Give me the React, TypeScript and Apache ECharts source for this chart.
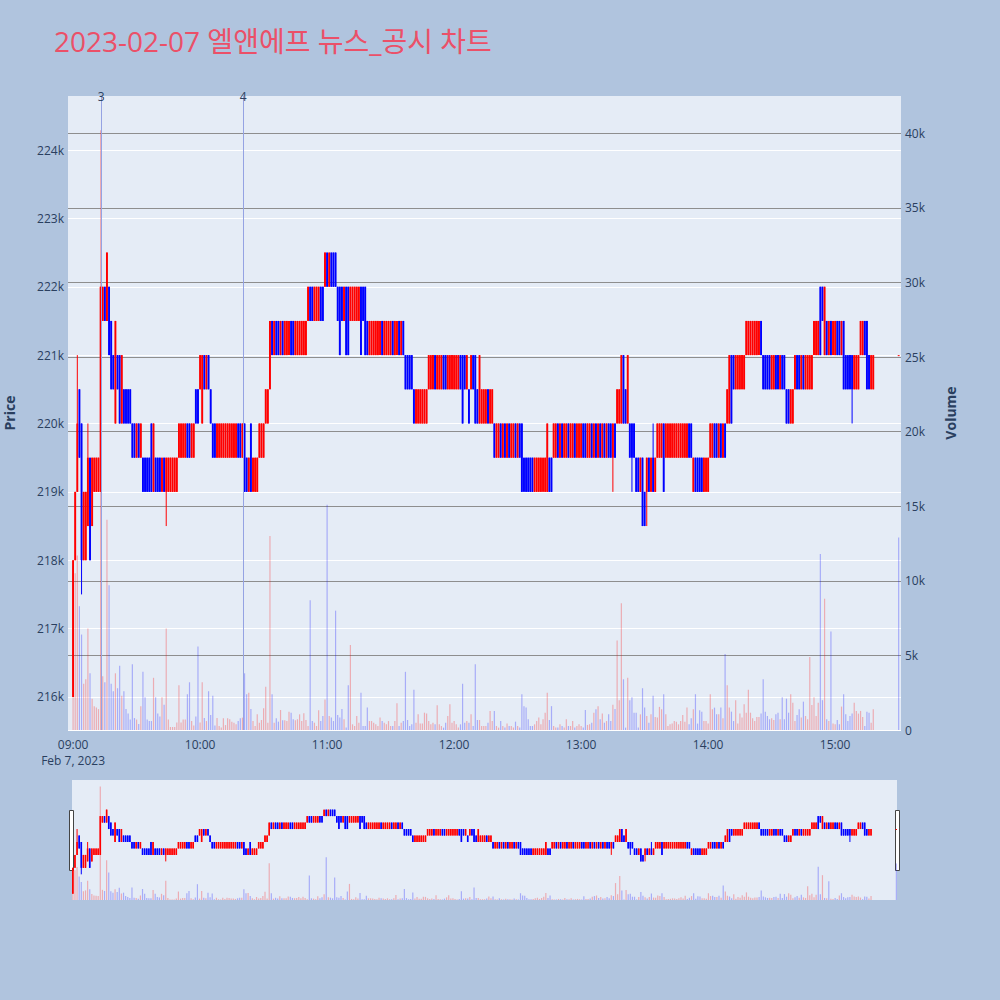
import React, { useEffect, useRef } from 'react';
import * as echarts from 'echarts';

const TITLE = '2023-02-07 엘앤에프 뉴스_공시 차트';

// minute offsets from 09:00 = array index; prices in thousand won
const opens = [
  216, 218, 219, 220.5, 220, 218, 218, 218.5, 219.5, 218.5,
  219, 219, 219, 219, 221.5, 222, 221.5, 222, 221.5, 221,
  220, 221, 221, 220, 220.5, 220.5, 220.5, 220.5, 220, 220,
  219.5, 220, 219.5, 219.5, 219.5, 219.5, 219.5, 220, 219, 219.5,
  219.5, 219.5, 219, 219.5, 219, 219, 219, 219, 219, 219,
  219.5, 219.5, 219.5, 219.5, 220, 220, 219.5, 219.5, 220.5, 220.5,
  220.5, 220, 221, 220.5, 221, 220.5, 220, 220, 219.5, 219.5,
  219.5, 219.5, 219.5, 219.5, 219.5, 219.5, 219.5, 219.5, 220, 220,
  219.5, 220, 219.5, 219, 220, 219, 219, 219, 219.5, 219.5,
  219.5, 220, 220, 220.5, 221.5, 221, 221.5, 221.5, 221, 221.5,
  221, 221, 221, 221.5, 221.5, 221, 221, 221, 221, 221,
  221, 221.5, 222, 222, 221.5, 221.5, 221.5, 222, 222, 222,
  222.5, 222, 222.5, 222.5, 222.5, 222, 222, 222, 221.5, 222,
  222, 221.5, 221.5, 221.5, 221.5, 221.5, 222, 222, 222, 221.5,
  221, 221, 221, 221, 221, 221, 221.5, 221, 221, 221,
  221, 221.5, 221, 221, 221.5, 221, 221.5, 221, 221, 221,
  221, 220.5, 220, 220, 220, 220, 220, 220, 220.5, 220.5,
  220.5, 221, 220.5, 220.5, 220.5, 221, 221, 220.5, 220.5, 220.5,
  220.5, 220.5, 220.5, 221, 221, 221, 220.5, 220.5, 220.5, 221,
  221, 220.5, 220, 220, 220, 220, 220.5, 220, 220, 220,
  219.5, 219.5, 220, 219.5, 220, 219.5, 220, 219.5, 219.5, 220,
  219.5, 220, 220, 219.5, 219.5, 219.5, 219.5, 219.5, 219, 219,
  219, 219, 219, 219, 219, 219.5, 219.5, 219.5, 219.5, 220,
  219.5, 220, 219.5, 219.5, 220, 219.5, 219.5, 220, 219.5, 219.5,
  219.5, 220, 220, 219.5, 219.5, 220, 219.5, 220, 219.5, 220,
  219.5, 220, 219.5, 220, 220, 219.5, 220, 220, 220, 220,
  221, 220.5, 220, 220, 220, 220, 219.5, 219.5, 219, 219.5,
  219, 219, 219.5, 219, 219.5, 219, 219.5, 219.5, 219.5, 220,
  219.5, 219.5, 219.5, 219.5, 219.5, 219.5, 219.5, 219.5, 219.5, 219.5,
  219.5, 220, 220, 219, 219.5, 219.5, 219.5, 219.5, 219, 219,
  219, 219.5, 219.5, 220, 220, 219.5, 220, 219.5, 220, 220,
  220, 221, 221, 220.5, 220.5, 220.5, 220.5, 220.5, 221, 221,
  221, 221, 221, 221, 221, 221.5, 221, 221, 221, 221,
  220.5, 220.5, 221, 221, 220.5, 221, 221, 220.5, 220.5, 220,
  220, 220.5, 221, 221, 220.5, 221, 220.5, 220.5, 220.5, 220.5,
  221, 221, 221, 222, 222, 221, 221.5, 221, 221.5, 221,
  221, 221.5, 221.5, 221, 221.5, 221, 221, 221, 221, 220.5,
  220.5, 220.5, 221, 221, 221.5, 221.5, 221, 220.5, 220.5,
];

const closes = [
  218, 219, 220, 219.5, 218, 219, 219, 219.5, 218, 219.5,
  219.5, 219.5, 219.5, 222, 222, 221.5, 222.5, 221, 220.5, 220.5,
  221.5, 220.5, 220, 221, 220, 220, 220, 220, 219.5, 219.5,
  220, 219.5, 220, 219, 219, 219, 219, 219, 220, 219,
  219, 219, 219.5, 219, 219.5, 219.5, 219.5, 219.5, 219.5, 219.5,
  220, 220, 220, 220, 219.5, 219.5, 220, 220, 220, 220,
  221, 221, 220.5, 221, 220.5, 220, 219.5, 219.5, 220, 220,
  220, 220, 220, 220, 220, 220, 220, 220, 219.5, 219.5,
  220, 219, 219, 219.5, 219, 219.5, 219.5, 219.5, 220, 220,
  220, 220.5, 220.5, 221.5, 221, 221.5, 221, 221, 221.5, 221,
  221.5, 221.5, 221.5, 221, 221, 221.5, 221.5, 221.5, 221.5, 221.5,
  221.5, 222, 221.5, 221.5, 222, 222, 222, 221.5, 221.5, 222.5,
  222, 222.5, 222, 222, 222, 221.5, 221, 221.5, 222, 221,
  221, 222, 222, 222, 222, 222, 221, 221.5, 221, 221,
  221.5, 221.5, 221.5, 221.5, 221.5, 221.5, 221, 221.5, 221.5, 221.5,
  221.5, 221, 221.5, 221.5, 221, 221.5, 221, 220.5, 220.5, 220.5,
  220.5, 220, 220.5, 220.5, 220.5, 220.5, 220.5, 220.5, 221, 221,
  221, 220.5, 221, 221, 221, 220.5, 220.5, 221, 221, 221,
  221, 221, 221, 220.5, 220, 220.5, 221, 220, 221, 220.5,
  220, 220, 221, 220.5, 220.5, 220.5, 220, 220.5, 220.5, 219.5,
  220, 220, 219.5, 220, 219.5, 220, 219.5, 220, 220, 219.5,
  220, 219.5, 219, 219, 219, 219, 219, 219, 219.5, 219.5,
  219.5, 219.5, 219.5, 219.5, 220, 219, 219, 220, 220, 219.5,
  220, 219.5, 220, 220, 219.5, 220, 220, 219.5, 220, 220,
  220, 219.5, 219.5, 220, 220, 219.5, 220, 219.5, 220, 219.5,
  220, 219.5, 220, 219.5, 219.5, 220, 219.5, 220.5, 220.5, 221,
  220, 220, 221, 219.5, 219.5, 219.5, 219, 219, 219.5, 218.5,
  218.5, 219.5, 219, 219.5, 219, 219.5, 220, 220, 220, 219,
  220, 220, 220, 220, 220, 220, 220, 220, 220, 220,
  220, 219.5, 219.5, 219.5, 219, 219, 219, 219, 219.5, 219.5,
  219.5, 220, 220, 219.5, 219.5, 220, 219.5, 220, 219.5, 220.5,
  221, 220, 220.5, 221, 221, 221, 221, 221, 221.5, 221.5,
  221.5, 221.5, 221.5, 221.5, 221.5, 221, 220.5, 220.5, 220.5, 220.5,
  221, 221, 220.5, 220.5, 221, 220.5, 220.5, 220, 220, 220.5,
  220.5, 221, 220.5, 220.5, 221, 220.5, 221, 221, 221, 221,
  221.5, 221.5, 221.5, 221, 221.5, 222, 221, 221.5, 221, 221.5,
  221.5, 221, 221, 221.5, 220.5, 220.5, 220.5, 220.5, 220.5, 221,
  221, 221, 221.5, 221.5, 221, 220.5, 220.5, 221, 221,
];

// wicks beyond the body (minute -> thousand won)
const wickHighs: Record<number, number> = { 2: 221, 7: 220, 274: 220 };
const wickLows: Record<number, number> = { 4: 217.5, 44: 218.5, 255: 219, 264: 219, 271: 218.5, 368: 220 };

// volume, thousand shares
const volumes = [
  11.0, 10.5, 11.7, 8.3, 6.4, 3.1, 3.4, 6.8, 3.8, 2.1,
  1.6, 1.5, 1.4, 40.2, 3.6, 3.2, 14.1, 9.7, 3.1, 2.6,
  3.8, 2.8, 4.3, 2.3, 2.6, 1.4, 1.1, 0.7, 4.4, 0.8,
  0.7, 0.4, 1.6, 3.9, 2.2, 0.7, 0.6, 0.6, 3.5, 2.2,
  1.1, 0.9, 2.2, 1.7, 6.8, 0.7, 0.2, 0.2, 0.2, 0.5,
  3.0, 0.5, 0.7, 0.7, 2.4, 3.2, 0.6, 0.3, 0.9, 5.6,
  0.5, 3.2, 0.8, 0.6, 2.6, 1.0, 2.3, 0.3, 0.8, 0.27,
  0.16, 0.78, 0.33, 0.78, 0.72, 0.56, 0.49, 0.38, 0.6, 0.78,
  0.83, 3.8, 2.4, 2.5, 1.4, 0.6, 0.27, 1.05, 0.49, 0.67,
  1.45, 2.9, 0.49, 13.0, 2.4, 0.49, 0.78, 0.56, 1.34, 0.65,
  0.65, 0.6, 1.23, 1.16, 0.72, 0.65, 0.72, 1.05, 0.6, 1.12,
  0.67, 0.27, 8.7, 0.6, 0.49, 0.27, 1.32, 0.6, 0.94, 2.05,
  15.1, 0.94, 0.83, 0.6, 8.0, 1.0, 0.83, 1.4, 0.72, 0.16,
  3.0, 5.7, 0.38, 0.27, 0.94, 0.49, 2.5, 0.27, 0.27, 1.5,
  0.6, 0.6, 0.49, 0.38, 0.27, 0.83, 0.6, 0.49, 0.38, 0.6,
  0.27, 0.27, 0.6, 1.8, 0.27, 0.49, 0.6, 3.9, 0.67, 0.27,
  0.38, 2.7, 0.49, 1.05, 0.43, 0.43, 1.16, 1.1, 0.6, 0.38,
  0.49, 0.38, 1.66, 0.38, 0.27, 0.16, 0.49, 0.94, 1.72, 0.49,
  0.6, 0.38, 0.16, 0.38, 3.1, 0.49, 0.6, 0.49, 1.05, 0.27,
  4.4, 0.67, 0.67, 0.27, 0.27, 0.27, 0.49, 1.28, 0.6, 1.28,
  0.27, 0.16, 0.6, 0.27, 0.16, 0.43, 0.27, 0.27, 0.16, 0.56,
  0.27, 0.16, 2.4, 1.6, 1.5, 0.72, 0.27, 0.27, 0.38, 0.6,
  0.83, 0.38, 0.72, 1.16, 2.5, 0.67, 1.6, 0.27, 0.16, 0.16,
  0.38, 0.27, 0.16, 0.72, 0.27, 0.27, 0.6, 0.16, 0.27, 0.38,
  0.27, 0.16, 1.34, 0.34, 0.38, 0.49, 1.16, 1.39, 1.6, 0.72,
  1.1, 0.49, 0.6, 1.05, 0.6, 1.7, 1.4, 6.0, 2.0, 8.5,
  3.4, 0.16, 3.5, 2.0, 2.2, 1.16, 1.16, 0.16, 1.05, 2.8,
  1.5, 0.94, 0.49, 1.05, 2.3, 0.87, 0.83, 1.55, 1.39, 2.4,
  1.05, 0.27, 0.38, 0.43, 0.6, 0.56, 0.38, 0.6, 1.0, 0.56,
  1.5, 0.38, 0.78, 1.39, 2.4, 0.43, 1.32, 1.23, 0.6, 0.6,
  0.43, 2.4, 1.39, 1.5, 1.05, 1.05, 1.5, 0.78, 5.1, 3.0,
  1.5, 1.23, 0.6, 2.0, 0.43, 1.1, 0.83, 1.72, 1.16, 2.7,
  1.16, 0.78, 0.6, 0.87, 0.87, 1.1, 3.4, 1.23, 0.94, 0.72,
  0.78, 0.67, 1.05, 1.16, 0.72, 2.2, 0.72, 2.1, 1.16, 2.4,
  1.83, 0.6, 1.0, 1.39, 0.83, 1.9, 0.94, 0.72, 4.9, 1.68,
  2.2, 0.94, 1.83, 11.8, 2.0, 8.8, 0.72, 0.6, 6.6, 0.43,
  0.38, 0.67, 0.38, 1.57, 2.4, 1.05, 0.6, 0.94, 1.1, 1.83,
  1.28, 1.1, 1.28, 0.87, 0.27, 1.23, 1.16, 0.49, 1.39,
];

// closing single-price auction at 15:30
const auction = { minute: 390, open: 221, close: 221, volume: 12.9 };

// news / disclosure markers
const newsMinutes = [13.3, 80.3];
const newsLabels = ['3', '4'];

const hourTicks = [0, 60, 120, 180, 240, 300, 360];
const hourLabels = ['09:00', '10:00', '11:00', '12:00', '13:00', '14:00', '15:00'];
const dateLabel = 'Feb 7, 2023';

const UP = '#ff0000';
const DOWN = '#0000ff';
const VOL_UP = 'rgba(255,0,0,0.27)';
const VOL_DOWN = 'rgba(0,0,255,0.27)';
const FONT = "'Open Sans', 'Noto Sans CJK KR', sans-serif";
const TXT = '#2a3f5f';

// rows: [minute, open, close, low, high, direction(1 up / -1 down), volume]
function buildRows() {
  const rows: number[][] = [];
  const push = (m: number, o: number, c: number, lo: number, hi: number, v: number) => {
    const prevClose = rows.length ? rows[rows.length - 1][2] : c;
    const dir = c > o ? 1 : c < o ? -1 : prevClose <= c ? 1 : -1;
    rows.push([m, o, c, lo, hi, dir, v]);
  };
  for (let i = 0; i < opens.length; i++) {
    const o = opens[i] * 1000;
    const c = closes[i] * 1000;
    const hi = wickHighs[i] !== undefined ? wickHighs[i] * 1000 : Math.max(o, c);
    const lo = wickLows[i] !== undefined ? wickLows[i] * 1000 : Math.min(o, c);
    push(i, o, c, lo, hi, volumes[i] * 1000);
  }
  push(
    auction.minute,
    auction.open * 1000,
    auction.close * 1000,
    Math.min(auction.open, auction.close) * 1000,
    Math.max(auction.open, auction.close) * 1000,
    auction.volume * 1000,
  );
  return rows;
}

function candleRenderer(bodyWidth: number) {
  return (params: any, api: any) => {
    const x = api.value(0);
    const o = api.value(1);
    const c = api.value(2);
    const lo = api.value(3);
    const hi = api.value(4);
    const dir = api.value(5);
    const color = dir > 0 ? UP : DOWN;
    const pO = api.coord([x, o]);
    const pC = api.coord([x, c]);
    const pL = api.coord([x, lo]);
    const pH = api.coord([x, hi]);
    const top = Math.min(pO[1], pC[1]);
    const h = Math.max(1, Math.abs(pO[1] - pC[1]));
    return {
      type: 'group',
      children: [
        {
          type: 'line',
          shape: { x1: pH[0], y1: pH[1], x2: pL[0], y2: pL[1] },
          style: { stroke: color, lineWidth: 1 },
        },
        {
          type: 'rect',
          shape: { x: pO[0] - bodyWidth / 2, y: top, width: bodyWidth, height: h },
          style: { fill: color },
        },
      ],
    };
  };
}

export default function App() {
  const ref = useRef<HTMLDivElement>(null);

  useEffect(() => {
    if (!ref.current) return;
    const chart = echarts.init(ref.current, undefined, { renderer: 'svg' });
    const rows = buildRows();
    const candles = rows.map((r) => [r[0], r[1], r[2], r[3], r[4], r[5]]);
    const vols = rows.map((r) => ({
      value: [r[0], r[6]],
      itemStyle: { color: r[2] > r[1] ? VOL_UP : VOL_DOWN },
    }));

    const priceMin = 215517;
    const priceMax = 224790;
    const volMax = 42500;

    chart.setOption({
      animation: false,
      backgroundColor: '#b0c4de',
      textStyle: { fontFamily: FONT },
      title: {
        text: TITLE,
        left: 49,
        top: 22,
        textStyle: { color: '#eb5068', fontSize: 28, fontWeight: 'normal', fontFamily: FONT },
      },
      grid: [
        {
          left: 68, top: 96, width: 833, height: 634, show: true, backgroundColor: '#e5ecf6',
          borderWidth: 0, containLabel: false, outerBoundsMode: 'none',
        },
        {
          left: 72, top: 780, width: 825, height: 120, show: true, backgroundColor: '#e5ecf6',
          borderWidth: 0, containLabel: false, outerBoundsMode: 'none',
        },
      ],
      xAxis: [
        {
          type: 'value',
          gridIndex: 0,
          min: -2.4,
          max: 391.1,
          axisLine: { show: false },
          axisTick: { show: false },
          splitLine: { show: false },
          axisLabel: {
            customValues: hourTicks,
            color: TXT,
            fontSize: 12,
            fontFamily: FONT,
            margin: 6,
            lineHeight: 16,
            align: 'center',
            formatter: (v: number) => {
              const idx = hourTicks.indexOf(Math.round(v));
              if (idx < 0) return '';
              return idx === 0 ? hourLabels[idx] + '\n' + dateLabel : hourLabels[idx];
            },
          },
        },
        {
          type: 'value',
          gridIndex: 1,
          min: -0.4,
          max: 390.3,
          show: false,
          splitLine: { show: false },
        },
      ],
      yAxis: [
        {
          type: 'value',
          gridIndex: 0,
          position: 'left',
          min: priceMin,
          max: priceMax,
          splitNumber: 9,
          name: 'Price',
          nameLocation: 'middle',
          nameRotate: 90,
          nameGap: 52,
          nameTextStyle: { color: TXT, fontSize: 14, fontWeight: 'bold', fontFamily: FONT },
          axisLine: { show: false },
          axisTick: { show: false },
          splitLine: {
            show: true,
            showMinLine: true,
            showMaxLine: false,
            lineStyle: { color: '#ffffff', width: 1 },
          },
          axisLabel: {
            color: TXT,
            fontSize: 12,
            fontFamily: FONT,
            margin: 4,
            showMinLabel: false,
            showMaxLabel: false,
            formatter: (v: number) => `${Math.round(v / 1000)}k`,
          },
        },
        {
          type: 'value',
          gridIndex: 0,
          position: 'right',
          min: 0,
          max: volMax,
          splitNumber: 8,
          name: 'Volume',
          nameLocation: 'middle',
          nameRotate: 90,
          nameGap: 42,
          nameTextStyle: { color: TXT, fontSize: 14, fontWeight: 'bold', fontFamily: FONT },
          axisLine: { show: false },
          axisTick: { show: false },
          splitLine: {
            show: true,
            showMinLine: false,
            showMaxLine: false,
            lineStyle: { color: '#8e8e8e', width: 1 },
          },
          axisLabel: {
            color: TXT,
            fontSize: 12,
            fontFamily: FONT,
            margin: 4,
            showMaxLabel: false,
            formatter: (v: number) => (v === 0 ? '0' : `${Math.round(v / 1000)}k`),
          },
        },
        { type: 'value', gridIndex: 1, min: priceMin, max: priceMax, show: false, splitLine: { show: false } },
        { type: 'value', gridIndex: 1, min: 0, max: volMax, show: false, splitLine: { show: false } },
      ],
      series: [
        {
          type: 'custom',
          xAxisIndex: 0,
          yAxisIndex: 0,
          data: candles,
          encode: { x: 0, y: [1, 2, 3, 4] },
          renderItem: candleRenderer(1.9),
          clip: true,
          silent: true,
        },
        {
          type: 'bar',
          xAxisIndex: 0,
          yAxisIndex: 1,
          data: vols,
          encode: { x: 0, y: 1 },
          barWidth: 1.2,
          silent: true,
          markLine: {
            silent: true,
            symbol: ['none', 'none'],
            animation: false,
            lineStyle: { color: '#95a3e3', width: 1, type: 'solid' },
            label: {
              show: true,
              position: 'end',
              formatter: '{b}',
              color: TXT,
              fontSize: 12,
              fontFamily: FONT,
              distance: -6,
            },
            data: newsMinutes.map((m, i) => ({ xAxis: m, name: newsLabels[i] })),
          },
        },
        {
          type: 'custom',
          xAxisIndex: 1,
          yAxisIndex: 2,
          data: candles,
          encode: { x: 0, y: [1, 2, 3, 4] },
          renderItem: candleRenderer(1.6),
          clip: true,
          silent: true,
        },
        {
          type: 'bar',
          xAxisIndex: 1,
          yAxisIndex: 3,
          data: vols,
          encode: { x: 0, y: 1 },
          barWidth: 1.2,
          silent: true,
        },
      ],
      graphic: [
        {
          type: 'rect',
          left: 69,
          top: 810,
          shape: { width: 4, height: 60 },
          style: { fill: '#ffffff', stroke: '#444444', lineWidth: 1 },
        },
        {
          type: 'rect',
          left: 895,
          top: 810,
          shape: { width: 4, height: 60 },
          style: { fill: '#ffffff', stroke: '#444444', lineWidth: 1 },
        },
      ],
    });

    return () => {
      chart.dispose();
    };
  }, []);

  return (
    <div
      ref={ref}
      style={{ position: 'absolute', left: 0, top: 0, width: 1000, height: 1000, background: '#b0c4de' }}
    />
  );
}
